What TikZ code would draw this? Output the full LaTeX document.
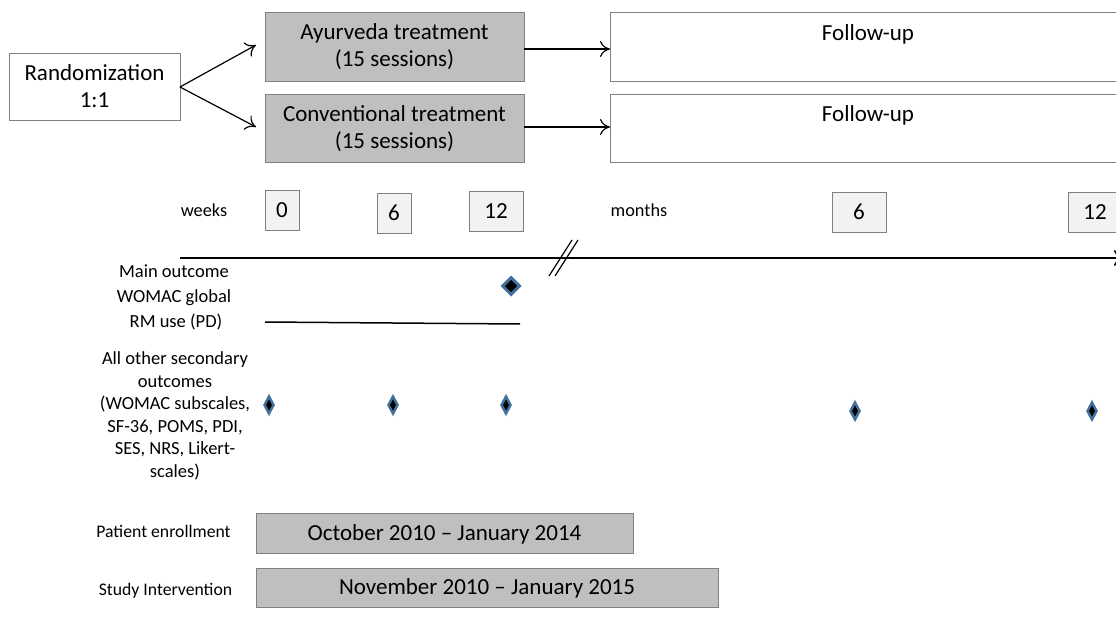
\documentclass[tikz,border=0pt]{standalone}
\usepackage{fontspec}
\setmainfont{Carlito}
\usetikzlibrary{arrows.meta,shapes.geometric}
\definecolor{boxgray}{HTML}{BFBFBF}
\definecolor{tickgray}{HTML}{F2F2F2}
\definecolor{edgegray}{HTML}{7F7F7F}
\definecolor{diamblue}{HTML}{41719C}
\tikzset{
  bigtxt/.style={font=\fontsize{23}{27}\selectfont},
  midtxt/.style={font=\fontsize{18.5}{22.5}\selectfont},
  smalltxt/.style={font=\fontsize{18.3}{22}\selectfont},
  lowtxt/.style={font=\fontsize{17.7}{22}\selectfont},
  rbox/.style={draw=edgegray, line width=0.8pt, fill=white, bigtxt, align=center, inner sep=0pt},
  gbox/.style={draw=edgegray, line width=0.8pt, fill=boxgray, bigtxt, align=center, inner sep=0pt},
  tickbox/.style={draw=edgegray, line width=0.6pt, fill=tickgray, bigtxt, inner sep=0pt, minimum height=40pt},
  arr/.style={-{To[length=10pt,width=16pt]}, line width=1.2pt},
  bigdiam/.style={diamond, draw=diamblue, line width=3pt, fill=black, inner sep=0pt, minimum width=18pt, minimum height=18pt},
  smalldiam/.style={diamond, draw=diamblue, line width=2.5pt, fill=black, inner sep=0pt, minimum width=10pt, minimum height=18pt},
}
\begin{document}
\begin{tikzpicture}[x=1pt,y=-1pt]
\useasboundingbox (0,0) rectangle (1116,639);
\clip (0,0) rectangle (1116,639);
% main boxes
\node[rbox, minimum width=171pt, minimum height=67pt] (rand) at (94.5,86.5) {Randomization\\1:1};
\node[gbox, minimum width=259pt, minimum height=69pt, anchor=north west] (ayur) at (265,12) {};
\node[bigtxt, align=center] at (394.5,47) {Ayurveda treatment\\(15 sessions)};
\node[gbox, minimum width=259pt, minimum height=68pt, anchor=north west] (conv) at (265,94) {};
\node[bigtxt, align=center] at (394.5,129) {Conventional treatment\\(15 sessions)};
\node[rbox, minimum width=520pt, minimum height=69pt, anchor=north west] (fu1) at (610,12) {};
\node[bigtxt] at (868,34) {Follow-up};
\node[rbox, minimum width=520pt, minimum height=68pt, anchor=north west] (fu2) at (610,94) {};
\node[bigtxt] at (868,115) {Follow-up};
% arrows
\coordinate (rr) at (180,87);
\draw[arr] (rr) -- (256,45);
\draw[arr] (rr) -- (256,127);
\draw[arr] (524,49) -- (fu1.west |- 524,49);
\draw[arr] (524,127) -- (fu2.west |- 524,127);
% time labels
\node[smalltxt] (weeks) at (204,210) {weeks};
\node[smalltxt] (months) at (639,210) {months};
\node[tickbox, minimum width=34pt] (t0) at (282,210) {0};
\node[tickbox, minimum width=34pt] (t6) at (394,213) {6};
\node[tickbox, minimum width=54pt] (t12) at (496,211) {12};
\node[tickbox, minimum width=54pt] (m6) at (859,212) {6};
\node[tickbox, minimum width=54pt] (m12) at (1095,212) {12};
% timeline
\coordinate (tl0) at (180,258);
\coordinate (tl1) at (1124,258);
\draw[-{To[length=10pt,width=16pt]}, line width=1.5pt] (tl0) -- (tl1);
\draw[line width=1.2pt] (549,276) -- (572,240);
\draw[line width=1.2pt] (555,276) -- (578,240);
% outcome labels
\node[midtxt, align=center, font=\fontsize{18.5}{25}\selectfont] (main) at (174,285) {Main outcome\\WOMAC global};
\node[midtxt] (rm) at (176,322) {RM use (PD)};
\node[midtxt, align=center] (sec) at (175,416) {All other secondary\\outcomes\\(WOMAC subscales,\\SF-36, POMS, PDI,\\SES, NRS, Likert-\\scales)};
\coordinate (rm0) at (265,322);
\coordinate (rm1) at (520,324);
\draw[line width=1.5pt] (rm0) -- (rm1);
\node[bigdiam] (d0) at (511,286) {};
\node[smalldiam] (s1) at (269,405) {};
\node[smalldiam] (s2) at (393,405) {};
\node[smalldiam] (s3) at (506,405) {};
\node[smalldiam] (s4) at (855,411) {};
\node[smalldiam] (s5) at (1092,411) {};
% bottom
\node[lowtxt] (pe) at (163.5,531) {Patient enrollment};
\node[lowtxt] (si) at (165.5,591) {Study Intervention};
\node[gbox, minimum width=377pt, minimum height=40pt, anchor=north west] (peb) at (256,513) {};
\node[bigtxt] at (444.5,534) {October 2010 -- January 2014};
\node[gbox, minimum width=462pt, minimum height=39pt, anchor=north west] (sib) at (256,568) {};
\node[bigtxt] at (487,588) {November 2010 -- January 2015};
\end{tikzpicture}
\end{document}
